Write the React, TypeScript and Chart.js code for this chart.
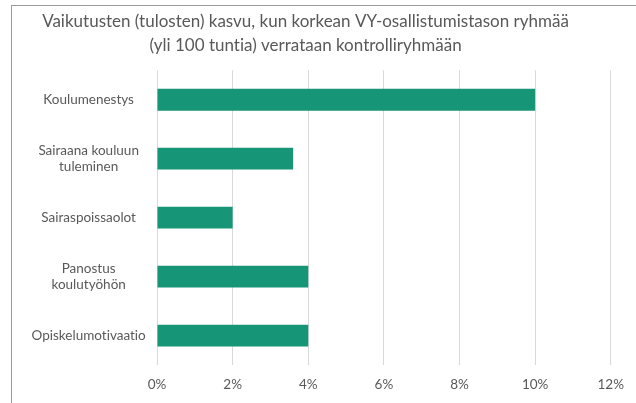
import React, { useEffect, useRef } from "react";
import { Chart, registerables } from "chart.js";

Chart.register(...registerables);

const titleLines = [
  "Vaikutusten (tulosten) kasvu, kun korkean VY-osallistumistason ryhmää",
  "(yli 100 tuntia) verrataan kontrolliryhmään",
];
const categories: (string | string[])[] = [
  "Koulumenestys",
  ["Sairaana kouluun", "tuleminen"],
  "Sairaspoissaolot",
  ["Panostus", "koulutyöhön"],
  "Opiskelumotivaatio",
];
const values = [0.1, 0.036, 0.02, 0.04, 0.04];
const xMin = 0;
const xMax = 0.12;
const xStep = 0.02;

const FONT = "Lato, 'Open Sans', sans-serif";
const TEXT = "#595959";

const noLigatures = {
  id: "noLigatures",
  beforeInit(chart: any) {
    try {
      chart.ctx.textRendering = "optimizeSpeed";
    } catch (e) {}
  },
  beforeDraw(chart: any) {
    try {
      chart.ctx.textRendering = "optimizeSpeed";
    } catch (e) {}
  },
};

export default function App() {
  const ref = useRef<HTMLCanvasElement | null>(null);
  useEffect(() => {
    if (!ref.current) return;
    const chart = new Chart(ref.current, {
      type: "bar",
      plugins: [noLigatures],
      data: {
        labels: categories,
        datasets: [
          {
            data: values,
            backgroundColor: "#179577",
            borderWidth: 0,
            categoryPercentage: 1,
            barPercentage: 0.37,
          },
        ],
      },
      options: {
        indexAxis: "y",
        animation: false,
        responsive: false,
        maintainAspectRatio: false,
        layout: { padding: { left: 0, right: 25, top: 0, bottom: 0 } },
        plugins: {
          legend: { display: false },
          tooltip: { enabled: false },
          title: {
            display: true,
            text: titleLines,
            color: TEXT,
            font: { family: FONT, size: 17, weight: "normal", lineHeight: 1.45 },
            padding: { top: 9, bottom: 12 },
          },
        },
        scales: {
          x: {
            min: xMin,
            max: xMax,
            grid: { color: "#d9d9d9", drawTicks: false, lineWidth: 1 },
            border: { display: false },
            ticks: {
              stepSize: xStep,
              color: TEXT,
              padding: 12,
              font: { family: FONT, size: 13.5 },
              callback: (v: any) => Math.round(Number(v) * 100) + "%",
            },
            afterFit: (s: any) => {
              s.height = 38;
            },
          },
          y: {
            grid: { display: false, drawTicks: false },
            border: { display: false },
            ticks: {
              color: TEXT,
              padding: 11,
              crossAlign: "center",
              font: { family: FONT, size: 13.5, lineHeight: 1.15 },
            },
            afterFit: (s: any) => {
              s.width = 157;
            },
          },
        },
      },
    });
    return () => chart.destroy();
  }, []);

  return (
    <div style={{ position: "fixed", left: 0, top: 0, width: 636, height: 403, background: "#fff", overflow: "hidden" }}>
      <div
        style={{
          position: "absolute",
          left: 11,
          top: 5,
          width: 700,
          height: 500,
          borderLeft: "1px solid #9a9a9a",
          borderTop: "1px solid #9a9a9a",
        }}
      />
      <canvas ref={ref} width={636} height={403} style={{ position: "absolute", left: 0, top: 0 }} />
    </div>
  );
}
